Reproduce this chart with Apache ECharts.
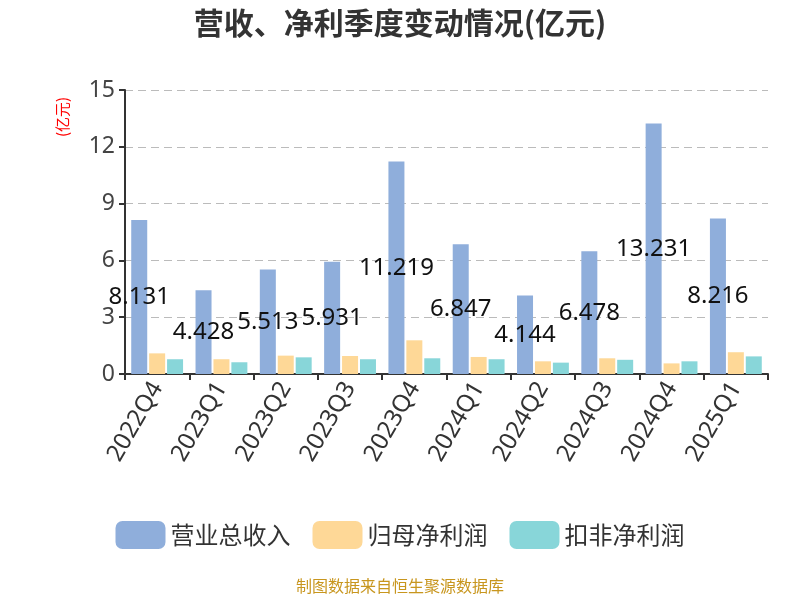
<!DOCTYPE html>
<html><head><meta charset="utf-8">
<script src="https://cdn.jsdelivr.net/npm/echarts@6/dist/echarts.min.js"></script>
<style>html,body{margin:0;padding:0;background:#fff}#c{width:800px;height:600px}</style>
</head><body><div id="c"></div>
<script>
const categories = ['2022Q4','2023Q1','2023Q2','2023Q3','2023Q4','2024Q1','2024Q2','2024Q3','2024Q4','2025Q1'];
const revenue = [8.131, 4.428, 5.513, 5.931, 11.219, 6.847, 4.144, 6.478, 13.231, 8.216];
const netProfit = [1.09, 0.78, 0.97, 0.95, 1.78, 0.90, 0.67, 0.83, 0.56, 1.15];
const deductedProfit = [0.78, 0.62, 0.88, 0.78, 0.83, 0.78, 0.60, 0.75, 0.67, 0.93];
const yTicks = [0, 3, 6, 9, 12, 15];

const chart = echarts.init(document.getElementById('c'));
chart.setOption({
  backgroundColor: '#fff',
  animation: false,
  title: { text: '营收、净利季度变动情况(亿元)', left: 'center', top: 3,
    textStyle: { fontSize: 30, fontWeight: 'bold', color: '#333', fontFamily: 'Noto Sans CJK SC' } },
  legend: { bottom: 46, itemWidth: 50, itemHeight: 28, itemGap: 22, icon: 'roundRect',
    textStyle: { fontSize: 24, color: '#333', fontFamily: 'Noto Sans CJK SC' },
    data: ['营业总收入','归母净利润','扣非净利润'] },
  graphic: [
    { type: 'text', left: 'center', top: 578,
      style: { text: '制图数据来自恒生聚源数据库', fill: '#c8961e', fontSize: 16, fontFamily: 'Noto Sans CJK SC' } },
    { type: 'text', x: 55, y: 137, rotation: Math.PI / 2,
      style: { text: '(亿元)', fill: '#ff0000', fontSize: 15, fontFamily: 'Noto Sans CJK SC' } }
  ],
  grid: { left: 125, right: 32, top: 90, bottom: 226 },
  xAxis: { type: 'category', data: categories,
    axisLine: { lineStyle: { color: '#333', width: 2 } },
    axisTick: { show: true, length: 6, lineStyle: { color: '#333', width: 2 } },
    axisLabel: { rotate: 60, fontSize: 24, color: '#333', margin: 10, fontFamily: 'Noto Sans' } },
  yAxis: { type: 'value', min: yTicks[0], max: yTicks[yTicks.length-1], interval: 3,
    axisLine: { show: true, lineStyle: { color: '#333', width: 2 } },
    axisTick: { show: true, length: 6, lineStyle: { color: '#333', width: 2 } },
    axisLabel: { fontSize: 23, color: '#444', margin: 10, fontFamily: 'Noto Sans' } ,
    splitLine: { lineStyle: { type: [8,5], color: '#bbb', width: 1.2 } } },
  series: [
    { name: '营业总收入', type: 'bar', data: revenue, barWidth: 16, barGap: '12%',
      itemStyle: { color: '#8faedb' },
      label: { show: true, position: 'inside', color: '#111', fontSize: 24, fontFamily: 'Noto Sans' } },
    { name: '归母净利润', type: 'bar', data: netProfit, barWidth: 16, barGap: '12%',
      itemStyle: { color: '#fed897' } },
    { name: '扣非净利润', type: 'bar', data: deductedProfit, barWidth: 16, barGap: '12%',
      itemStyle: { color: '#88d6d9' } }
  ]
});
</script></body></html>
